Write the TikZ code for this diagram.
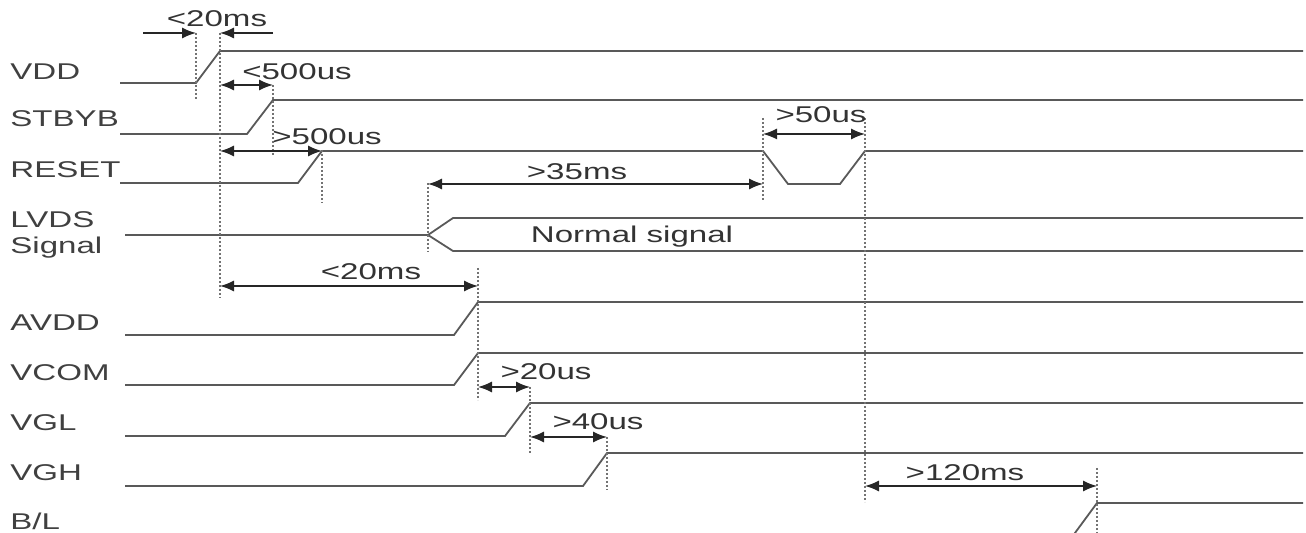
\documentclass[tikz,border=0pt]{standalone}
\usepackage{fontspec}
\newfontfamily\labelfont[FakeStretch=1.45]{Liberation Sans}
\usetikzlibrary{arrows.meta}

\begin{document}
\begin{tikzpicture}[x=0.5pt, y=-0.5pt,
  wave/.style={line width=0.9pt, color=black!65},
  marker/.style={dash pattern=on 1.1pt off 0.9pt, line width=1.4pt, color=black!55},
  span/.style={{Latex[length=7pt,width=5.5pt]}-{Latex[length=7pt,width=5.5pt]}, line width=0.7pt, color=black!85},
  halfspan/.style={-{Latex[length=7pt,width=5.5pt]}, line width=0.7pt, color=black!85},
  sig/.style={anchor=west, inner sep=0pt, align=left, font=\labelfont\fontsize{11.4}{13}\selectfont, color=black!75},
  val/.style={inner sep=0pt, font=\labelfont\fontsize{11.4}{13}\selectfont, color=black!80}]

  \useasboundingbox (0,0) rectangle (1306,533);

  % Signal names
  \node[sig] (vdd) at (10,72) {VDD};
  \node[sig] (stbyb) at (10,119) {STBYB};
  \node[sig] (reset) at (10,170) {RESET};
  \node[sig] (lvds) at (10,235) {LVDS\\Signal};
  \node[sig] (avdd) at (10,323) {AVDD};
  \node[sig] (vcom) at (10,373) {VCOM};
  \node[sig] (vgl) at (10,423) {VGL};
  \node[sig] (vgh) at (10,473) {VGH};
  \node[sig] (bl) at (10,521) {B/L};

  % Waveforms
  \draw[wave] (120,83) -- (196,83) -- (220,51) -- (1303,51);
  \draw[wave] (120,134) -- (247,134) -- (273,100) -- (1303,100);
  \draw[wave] (120,183) -- (298,183) -- (322,151) -- (763,151) -- (788,184)
    -- (840,184) -- (865,151) -- (1303,151);
  \draw[wave] (125,235) -- (428,235) -- (453,218) -- (1303,218);
  \draw[wave] (428,235) -- (453,251) -- (1303,251);
  \draw[wave] (125,335) -- (454,335) -- (478,302) -- (1303,302);
  \draw[wave] (125,385) -- (454,385) -- (478,353) -- (1303,353);
  \draw[wave] (125,436) -- (505,436) -- (530,403) -- (1303,403);
  \draw[wave] (125,486) -- (583,486) -- (607,453) -- (1303,453);
  \draw[wave] (1072,537) -- (1097,503) -- (1303,503);

  % Timing marks
  \foreach \x/\top/\bot in {196/33/100, 220/33/298, 273/85/156, 322/150/203,
      428/183/252, 763/118/200, 865/118/502, 478/268/400, 530/387/453,
      607/437/490, 1097/468/533}
    \draw[marker] (\x,\top) -- (\x,\bot);

  % Span end points
  \coordinate (vddS) at (143,33);
  \coordinate (vddL) at (196,33);
  \coordinate (vddR) at (220,33);
  \coordinate (vddE) at (273,33);
  \coordinate (stbL) at (220,85);
  \coordinate (stbR) at (273,85);
  \coordinate (rstL) at (220,151);
  \coordinate (rstR) at (322,151);
  \coordinate (lvdL) at (428,184);
  \coordinate (lvdR) at (763,184);
  \coordinate (pulL) at (763,134);
  \coordinate (pulR) at (865,134);
  \coordinate (avdL) at (220,286);
  \coordinate (avdR) at (478,286);
  \coordinate (vglL) at (478,387);
  \coordinate (vglR) at (530,387);
  \coordinate (vghL) at (530,437);
  \coordinate (vghR) at (607,437);
  \coordinate (blL) at (865,486);
  \coordinate (blR) at (1097,486);

  % Spans
  \draw[halfspan] (vddS) -- (vddL);
  \draw[halfspan] (vddE) -- (vddR);
  \draw[span] (stbL) -- (stbR);
  \draw[span] (rstL) -- (rstR);
  \draw[span] (lvdL) -- (lvdR);
  \draw[span] (pulL) -- (pulR);
  \draw[span] (avdL) -- (avdR);
  \draw[span] (vglL) -- (vglR);
  \draw[span] (vghL) -- (vghR);
  \draw[span] (blL) -- (blR);

  % Span values
  \node[val] (tvdd) at (217,19) {<20ms};
  \node[val] (tstb) at (297,72) {<500us};
  \node[val] (trst) at (327,137) {>500us};
  \node[val] (tlvd) at (577,172) {>35ms};
  \node[val] (tpul) at (821,115) {>50us};
  \node[val] (tnorm) at (632,237) {Normal signal};
  \node[val] (tavd) at (371,272) {<20ms};
  \node[val] (tvgl) at (546,372) {>20us};
  \node[val] (tvgh) at (598,422) {>40us};
  \node[val] (tbl) at (965,473) {>120ms};

\end{tikzpicture}
\end{document}
